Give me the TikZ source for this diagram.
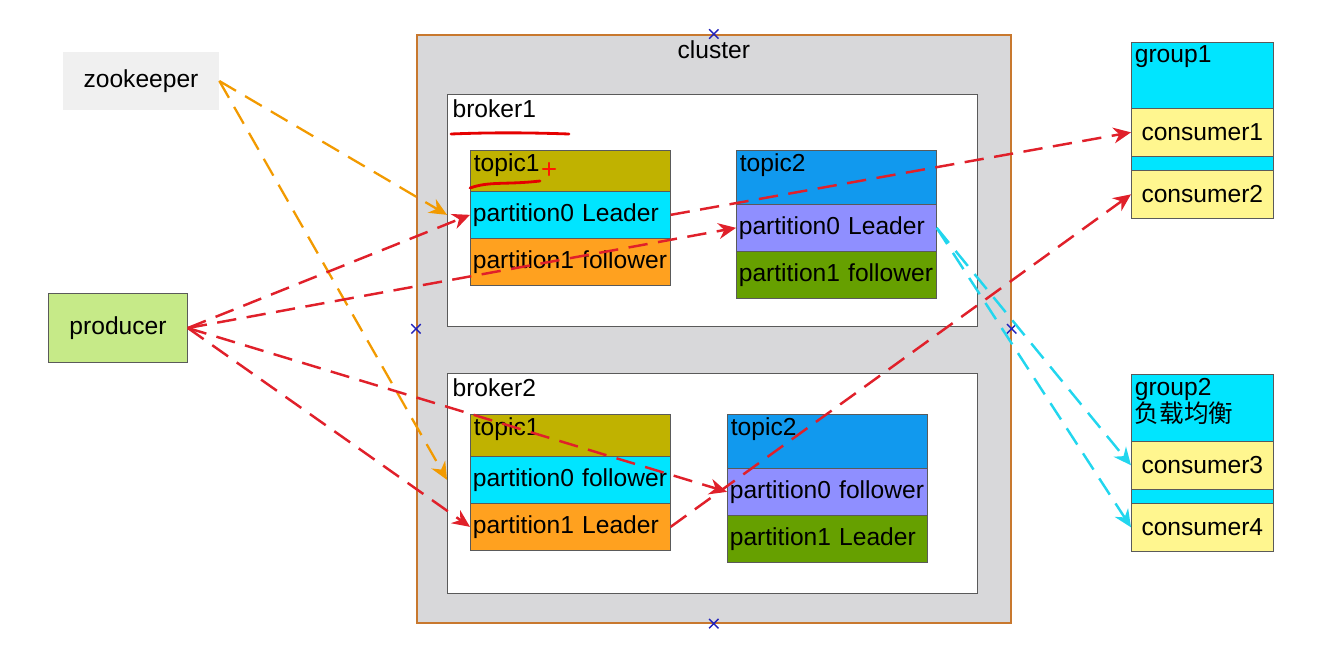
\documentclass[tikz,border=0pt]{standalone}
\usepackage{fontspec}
\setmainfont{Liberation Sans}
\newfontfamily\cjk{Noto Sans CJK SC}
\usetikzlibrary{arrows.meta,shapes.misc}

\definecolor{clusterfill}{HTML}{D8D8DA}
\definecolor{clusterline}{HTML}{C8782E}
\definecolor{boxline}{HTML}{5A5A5A}
\definecolor{topicone}{HTML}{C0B200}
\definecolor{topictwo}{HTML}{1199EE}
\definecolor{pcyan}{HTML}{00E5FF}
\definecolor{porange}{HTML}{FFA11F}
\definecolor{plilac}{HTML}{8F8FFF}
\definecolor{pgreen}{HTML}{66A000}
\definecolor{cyellow}{HTML}{FFF68F}
\definecolor{prodgreen}{HTML}{C6EA88}
\definecolor{zkgray}{HTML}{F0F0F0}
\definecolor{msgred}{HTML}{E0202A}
\definecolor{zkorange}{HTML}{F29A00}
\definecolor{subcyan}{HTML}{22D6EE}
\definecolor{markblue}{HTML}{2222BB}

\begin{document}
\begin{tikzpicture}[x=0.02cm,y=-0.02cm,
    font=\fontsize{14}{16}\selectfont,
    box/.style={draw=boxline,anchor=north west,inner sep=0pt},
    part/.style={box,minimum height=0.94cm,text width=3.9cm,inner xsep=0.05cm,align=left},
    hdr/.style={box,minimum width=4cm},
    cons/.style={box,fill=cyellow,minimum width=2.84cm,minimum height=0.96cm},
    grp/.style={box,fill=pcyan,minimum width=2.84cm},
    msg/.style={draw=msgred,line width=1.4pt,dash pattern=on 11pt off 6pt,-{Stealth[length=10pt,width=9pt]}},
    zkline/.style={draw=zkorange,line width=1.3pt,dash pattern=on 11pt off 6pt,-{Stealth[length=10pt,width=9pt]}},
    sub/.style={draw=subcyan,line width=1.4pt,dash pattern=on 11pt off 6pt,-{Stealth[length=10pt,width=9pt]}},
    xmark/.style={cross out,draw=markblue,minimum size=0.16cm,inner sep=0pt,line width=0.8pt},
    ink/.style={draw=red!90!black,line width=1.6pt,line cap=round}
  ]
  \useasboundingbox (0,0) rectangle (1342,652);

  % cluster and brokers
  \node[box,fill=clusterfill,draw=clusterline,line width=1pt,minimum width=11.88cm,minimum height=11.76cm] (cluster) at (416,34) {};
  \node[anchor=north] (clustername) at (cluster.north) {cluster};
  \node[box,fill=white,minimum width=10.6cm,minimum height=4.64cm] (broker1) at (447,94) {};
  \node[anchor=north west,inner sep=3pt] (b1name) at (broker1.north west) {broker1};
  \node[box,fill=white,minimum width=10.6cm,minimum height=4.4cm] (broker2) at (447,373) {};
  \node[anchor=north west,inner sep=3pt] (b2name) at (broker2.north west) {broker2};

  % broker1
  \node[hdr,fill=topicone,minimum height=0.82cm,label={[anchor=north west,inner sep=2pt]north west:topic1}] (b1t1) at (470,150) {};
  \node[part,fill=pcyan] (b1p0) at (470,191) {partition0 Leader};
  \node[part,fill=porange] (b1p1) at (470,238) {partition1 follower};
  \node[hdr,fill=topictwo,minimum height=1.08cm,label={[anchor=north west,inner sep=2pt]north west:topic2}] (b1t2) at (736,150) {};
  \node[part,fill=plilac] (b1q0) at (736,204) {partition0 Leader};
  \node[part,fill=pgreen] (b1q1) at (736,251) {partition1 follower};

  % broker2
  \node[hdr,fill=topicone,minimum height=0.84cm,label={[anchor=north west,inner sep=2pt]north west:topic1}] (b2t1) at (470,414) {};
  \node[part,fill=pcyan] (b2p0) at (470,456) {partition0 follower};
  \node[part,fill=porange] (b2p1) at (470,503) {partition1 Leader};
  \node[hdr,fill=topictwo,minimum height=1.08cm,label={[anchor=north west,inner sep=2pt]north west:topic2}] (b2t2) at (727,414) {};
  \node[part,fill=plilac] (b2q0) at (727,468) {partition0 follower};
  \node[part,fill=pgreen] (b2q1) at (727,515) {partition1 Leader};

  % consumer groups
  \node[grp,minimum height=3.52cm,label={[anchor=north west,inner sep=2pt]north west:group1}] (g1) at (1131,42) {};
  \node[cons] (c1) at (1131,108) {consumer1};
  \node[cons] (c2) at (1131,170) {consumer2};
  \node[grp,minimum height=3.54cm,label={[anchor=north west,inner sep=2pt,align=left,font=\fontsize{14}{13.5}\selectfont]north west:group2\\{\cjk 负载均衡}}] (g2) at (1131,374) {};
  \node[cons] (c3) at (1131,441) {consumer3};
  \node[cons] (c4) at (1131,503) {consumer4};

  % outside
  \node[fill=zkgray,minimum width=3.12cm,minimum height=1.16cm] (zk) at (141,81) {zookeeper};
  \node[draw=boxline,fill=prodgreen,minimum width=2.78cm,minimum height=1.38cm] (prod) at (118,328) {producer};

  % cluster connection marks
  \node[xmark] (cn) at (cluster.north) {};
  \node[xmark] (cw) at (cluster.west) {};
  \node[xmark] (ce) at (cluster.east) {};
  \node[xmark] (cs) at (cluster.south) {};

  % connectors
  \draw[zkline] (zk.east) -- (broker1.west |- b1p0.west);
  \draw[zkline] (zk.east) -- (broker2.west |- b2p0.west);
  \draw[msg] (prod.east) -- (b1p0.west);
  \draw[msg] (prod.east) -- (b1q0.west);
  \draw[msg] (prod.east) -- (b2q0.west);
  \draw[msg] (prod.east) -- (b2p1.west);
  \draw[msg] (b1p0.east) -- (c1.west);
  \draw[msg] (b2p1.east) -- (c2.west);
  \draw[sub] (b1q0.east) -- (c3.west);
  \draw[sub] (b1q0.east) -- (c4.west);

  % hand marks
  \draw[ink] (451,134) .. controls (500,132) and (540,133) .. (569,134);
  \draw[ink] (470,188) .. controls (490,181) and (505,185) .. (540,181);
  \draw[ink,line width=1.2pt,draw=red!80!orange] (543,169) -- (555,169) (549,163) -- (549,175);
\end{tikzpicture}
\end{document}
